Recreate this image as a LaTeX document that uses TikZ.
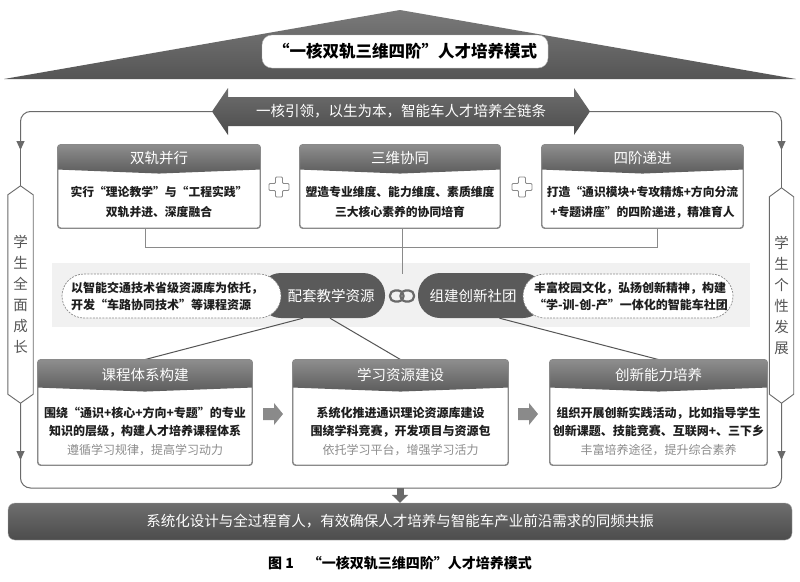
\documentclass[tikz,border=0pt]{standalone}
\usepackage{fontspec}
\setmainfont{Noto Sans CJK SC}
\usetikzlibrary{calc,arrows.meta}
\definecolor{tritop}{HTML}{7A7A7A}
\definecolor{tribot}{HTML}{555555}
\definecolor{arrtop}{HTML}{6E6E6E}
\definecolor{arrbot}{HTML}{4C4C4C}
\definecolor{hdtop}{HTML}{8E8E8E}
\definecolor{hdbot}{HTML}{5C5C5C}
\definecolor{pilldk}{HTML}{5A5A5A}
\definecolor{ln}{HTML}{6A6A6A}
\definecolor{cn}{HTML}{555555}
\definecolor{bd}{HTML}{8A8A8A}
\definecolor{txt}{HTML}{1E1E1E}
\definecolor{soft}{HTML}{8C8C8C}
\definecolor{band}{HTML}{F1F1F1}
\definecolor{blk}{HTML}{8A8A8A}
\newcommand\hdr[2]{%
  \begin{scope}
    \clip[rounded corners=3pt] (#1.north west) rectangle (#1.south east);
    \shade[top color=hdtop,bottom color=hdbot] (#1.north west) -- (#1.north east)
      -- ($(#1.north east)+(0,#2)$) -- ($(#1.north)+(0,#2+4)$) -- ($(#1.north west)+(0,#2)$) -- cycle;
  \end{scope}
  \draw[draw=bd,line width=0.9pt,rounded corners=3pt] (#1.north west) rectangle (#1.south east);}
\newcommand\plusmark[1]{%
  \draw[draw=bd,fill=white,line width=0.9pt,rounded corners=1pt]
    ($(#1)+(-3.5,-10)$) -- ($(#1)+(3.5,-10)$) -- ($(#1)+(3.5,-3.5)$) -- ($(#1)+(10,-3.5)$)
    -- ($(#1)+(10,3.5)$) -- ($(#1)+(3.5,3.5)$) -- ($(#1)+(3.5,10)$) -- ($(#1)+(-3.5,10)$)
    -- ($(#1)+(-3.5,3.5)$) -- ($(#1)+(-10,3.5)$) -- ($(#1)+(-10,-3.5)$) -- ($(#1)+(-3.5,-3.5)$) -- cycle;}
\newcommand\blockarrow[1]{%
  \fill[blk] ($(#1)+(-10,-6)$) -- ($(#1)+(1,-6)$) -- ($(#1)+(1,-11)$) -- ($(#1)+(10,0)$)
    -- ($(#1)+(1,11)$) -- ($(#1)+(1,6)$) -- ($(#1)+(-10,6)$) -- cycle;}
\begin{document}
\begin{tikzpicture}[x=1pt,y=-1pt,
  frame/.style={draw=ln,line width=1pt},
  conn/.style={draw=cn,line width=1pt},
  bracket/.style={draw=bd,line width=1pt},
  tip/.style={-{Triangle[width=8pt,length=9pt]}},
  bodybox/.style={draw=bd,line width=0.9pt,fill=white,rounded corners=3pt,inner sep=0pt},
  hdtext/.style={text=white,font=\fontsize{14.5}{16}\selectfont,inner sep=0pt},
  bodytext/.style={text=txt,font=\fontsize{11.8}{20}\selectfont\bfseries,align=center,inner sep=0pt},
  lowtext/.style={text=txt,font=\fontsize{12}{18.5}\selectfont\bfseries,align=center,inner sep=0pt},
  softtext/.style={text=soft,font=\fontsize{12}{14}\selectfont,inner sep=0pt},
  pilltext/.style={text=txt,font=\fontsize{12}{17}\selectfont\bfseries,align=left,inner sep=0pt},
  darkpill/.style={fill=pilldk,rounded corners=22pt,inner sep=0pt,minimum height=45pt},
  whitepill/.style={fill=white,draw=bd,line width=0.7pt,dash pattern=on 2pt off 1.2pt,rounded corners=22pt,inner sep=0pt,minimum height=44pt},
  hexstyle/.style={draw=ln,line width=0.9pt,fill=white},
  sidetext/.style={text=ln!80!black,font=\fontsize{14.5}{21}\selectfont,align=center,inner sep=0pt}
]
\useasboundingbox (0,0) rectangle (800,581);
\fill[white] (0,0) rectangle (800,581);

% roof and title
\shade[top color=tritop,bottom color=tribot] (400,10) -- (796,79) -- (4,79) -- cycle;
\node[fill=white,draw=bd!60,rounded corners=10pt,minimum width=286pt,minimum height=33pt,inner sep=0pt,
      font=\fontsize{16.5}{18}\selectfont\bfseries,text=black] (title) at (405,51.5) {“一核双轨三维四阶”人才培养模式};

% double arrow
\coordinate (tipL) at (212,111.5);
\coordinate (tipR) at (590,111.5);
\shade[top color=arrtop,bottom color=arrbot] (tipL) -- (228,88) -- (228,97) -- (574,97) -- (574,88) -- (tipR)
   -- (574,135) -- (574,126) -- (228,126) -- (228,135) -- cycle;
\node[text=white,font=\fontsize{14.5}{16}\selectfont,inner sep=0pt] (core) at (401,111.5) {一核引领，以生为本，智能车人才培养全链条};

% side hexagons
\node[minimum width=25pt,minimum height=217pt,inner sep=0pt] (hexL) at (20.5,294.5) {};
\node[minimum width=24pt,minimum height=215pt,inner sep=0pt] (hexR) at (781.5,295.5) {};
\foreach \h in {hexL,hexR}{
  \draw[hexstyle] (\h.north) -- ($(\h.north east)+(0,9)$) -- ($(\h.south east)+(0,-9)$) -- (\h.south)
     -- ($(\h.south west)+(0,-9)$) -- ($(\h.north west)+(0,9)$) -- cycle;}
\node[sidetext] (sL) at (hexL.center) {学\\生\\全\\面\\成\\长};
\node[sidetext] (sR) at (hexR.center) {学\\生\\个\\性\\发\\展};

% frame lines
\draw[frame,rounded corners=10pt,tip] (tipL) -| (20.5,150);
\draw[frame] (20.5,145) -- (hexL.north);
\draw[frame,rounded corners=10pt,tip] (tipR) -| (781.5,150);
\draw[frame] (781.5,145) -- (hexR.north);
\draw[frame,rounded corners=10pt] (hexL.south) -- (20.5,488) -- (781.5,488) -- (hexR.south);
\draw[frame,tip] (hexL.south) -- (20.5,460);
\draw[frame,tip] (hexR.south) -- (781.5,460);

% middle band
\fill[band] (52,263) rectangle (750,327);

% top boxes
\node[bodybox,minimum width=202pt,minimum height=83pt] (b1) at (159,186.5) {};
\node[bodybox,minimum width=200pt,minimum height=83pt] (b2) at (400,186.5) {};
\node[bodybox,minimum width=201pt,minimum height=83pt] (b3) at (642.5,186.5) {};
\hdr{b1}{25}\hdr{b2}{25}\hdr{b3}{25}
\node[hdtext] (h1) at (159,158) {双轨并行};
\node[hdtext] (h2) at (400,158) {三维协同};
\node[hdtext] (h3) at (642.5,158) {四阶递进};
\node[bodytext] (t1) at (159,202) {实行“理论教学”与“工程实践”\\双轨并进、深度融合};
\node[bodytext] (t2) at (400,202) {塑造专业维度、能力维度、素质维度\\三大核心素养的协同培育};
\node[bodytext] (t3) at (642.5,202) {打造“通识模块+专攻精炼+方向分流\\+专题讲座”的四阶递进，精准育人};
\coordinate (pl1) at (279,187);
\coordinate (pl2) at (522,187);
\plusmark{pl1}\plusmark{pl2}

% bracket and link
\draw[bracket] ($(b1.south)+(-14,0)$) -- ++(0,19) -| ($(b3.south)+(14.5,0)$);
\draw[bracket] ($(b2.south)+(2,0)$) -- ++(0,46);
\node[minimum width=26pt,minimum height=14pt,inner sep=0pt] (link) at (402,296) {};
\draw[draw=ln,line width=2.2pt,rounded corners=5pt] ($(link.center)+(-12,-5.5)$) rectangle ($(link.center)+(1.5,5.5)$);
\draw[draw=ln,line width=2.2pt,rounded corners=5pt] ($(link.center)+(-1.5,-5.5)$) rectangle ($(link.center)+(12,5.5)$);

% bottom boxes (nodes first, lines after for anchors)
\node[bodybox,minimum width=214pt,minimum height=105pt] (b4) at (145,412.5) {};
\node[bodybox,minimum width=215pt,minimum height=105pt] (b5) at (400.5,412.5) {};
\node[bodybox,minimum width=217pt,minimum height=105pt] (b6) at (658.5,412.5) {};

% middle pills
\node[darkpill,minimum width=126pt] (pA) at (322,295.5) {};
\node[darkpill,minimum width=127pt] (pB) at (481.5,295.5) {};
\node[whitepill,minimum width=219pt] (wA) at (171.5,296) {};
\node[whitepill,minimum width=210pt] (wB) at (628,296) {};
\node[hdtext] (pAt) at (331,296) {配套教学资源};
\node[hdtext] (pBt) at (473,296) {组建创新社团};
\node[pilltext] (wAt) at (167,296) {以智能交通技术省级资源库为依托，\\开发“车路协同技术”等课程资源};
\node[pilltext] (wBt) at (631,296) {丰富校园文化，弘扬创新精神，构建\\“学-训-创-产”一体化的智能车社团};

\draw[conn] ($(pA.south)+(-19,0)$) -- (b4.north);
\draw[conn] ($(pA.south)+(8,0)$) -- (b5.north);
\draw[conn] ($(pB.south)+(18,0)$) -- (b6.north);

\hdr{b4}{28}\hdr{b5}{28}\hdr{b6}{28}
\node[hdtext] (h4) at (145,374.5) {课程体系构建};
\node[hdtext] (h5) at (400.5,374.5) {学习资源建设};
\node[hdtext] (h6) at (658.5,374.5) {创新能力培养};
\node[lowtext] (t4) at (145,422) {围绕“通识+核心+方向+专题”的专业\\知识的层级，构建人才培养课程体系};
\node[lowtext] (t5) at (400.5,422) {系统化推进通识理论资源库建设\\围绕学科竞赛，开发项目与资源包};
\node[lowtext] (t6) at (658.5,422) {组织开展创新实践活动，比如指导学生\\创新课题、技能竞赛、互联网+、三下乡};
\node[softtext] (g4) at (145,450.5) {遵循学习规律，提高学习动力};
\node[softtext] (g5) at (400.5,450.5) {依托学习平台，增强学习活力};
\node[softtext] (g6) at (658.5,450.5) {丰富培养途径，提升综合素养};
\coordinate (ba1) at (273,414);
\coordinate (ba2) at (528,414);
\blockarrow{ba1}\blockarrow{ba2}

% bottom bar
\node[top color=arrtop,bottom color=arrbot,draw=bd!70,rounded corners=7pt,minimum width=784pt,minimum height=37pt,inner sep=0pt,
      text=white,font=\fontsize{14.5}{16}\selectfont] (bar) at (400,521.5) {系统化设计与全过程育人，有效确保人才培养与智能车产业前沿需求的同频共振};
\draw[line width=7pt,draw=ln,-{Triangle[width=16pt,length=8pt]}] (400,488) -- (bar.north);

% caption
\node[font=\fontsize{14}{16}\selectfont\bfseries,text=black,inner sep=0pt] (cap) at (400,563) {图 1\quad “一核双轨三维四阶”人才培养模式};
\end{tikzpicture}
\end{document}
